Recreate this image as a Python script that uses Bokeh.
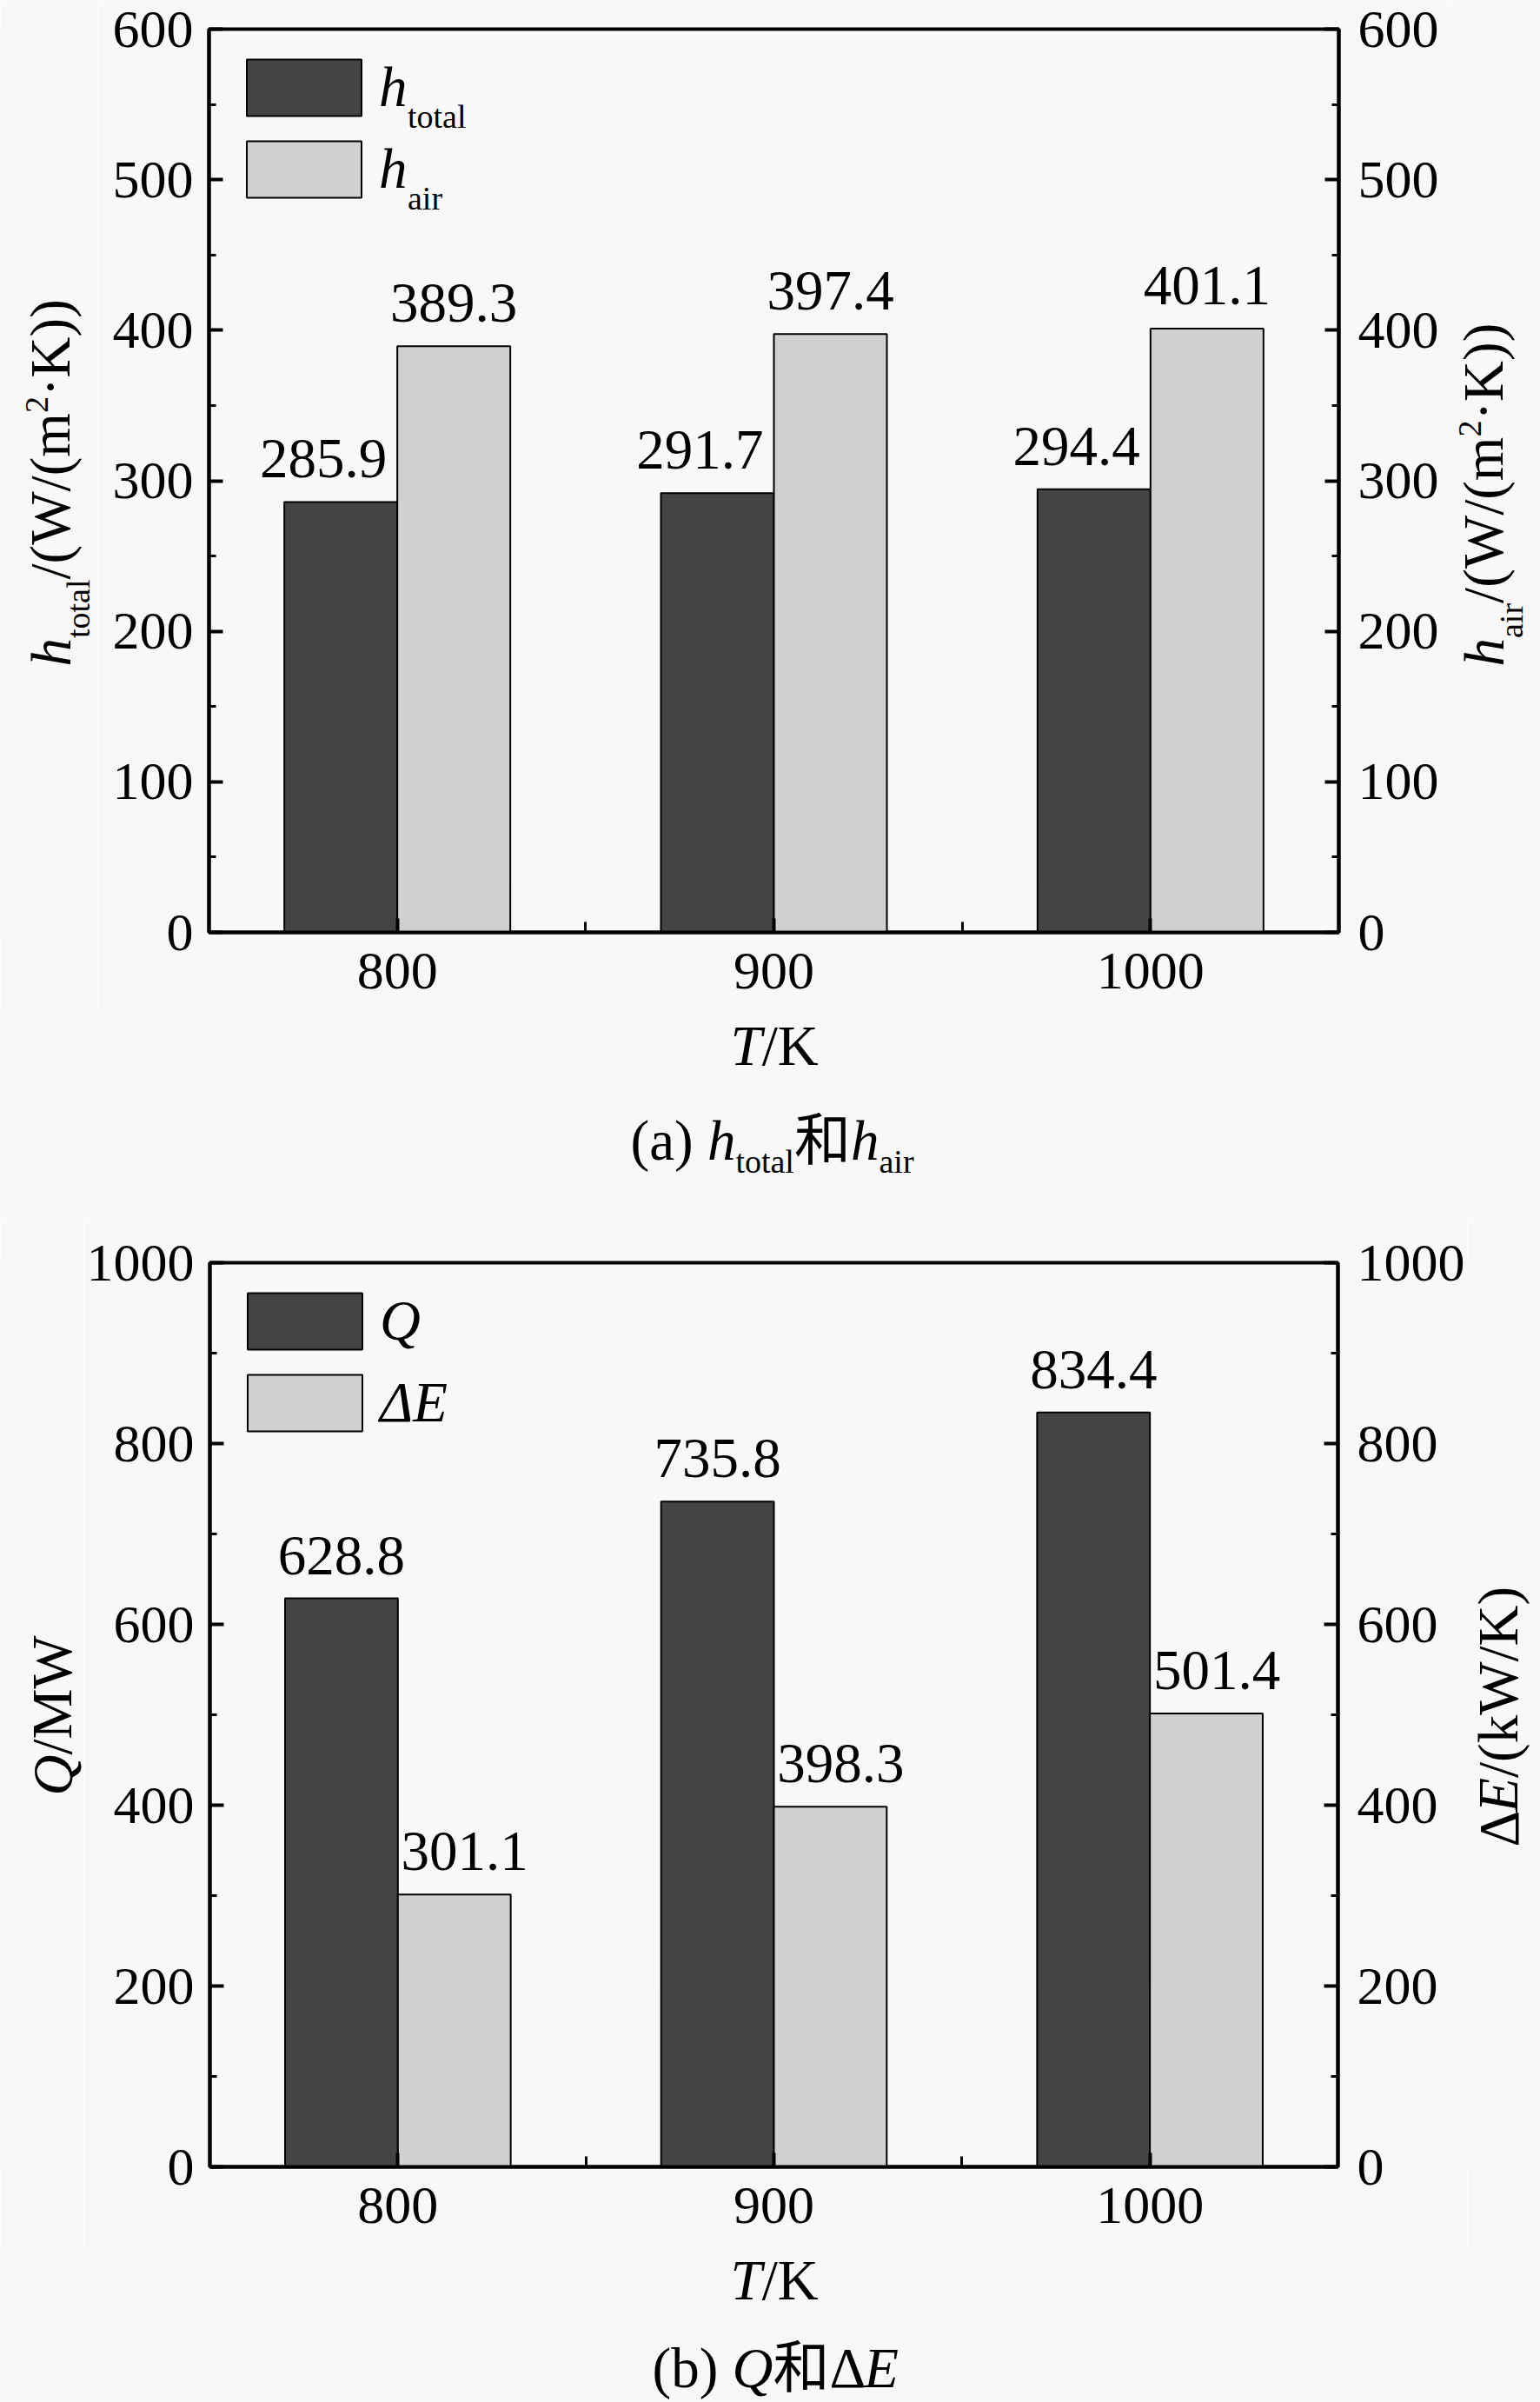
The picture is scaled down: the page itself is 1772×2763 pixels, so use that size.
import math
from bokeh.plotting import figure
from bokeh.models import (ColumnDataSource, Range1d, LinearAxis, FixedTicker,
                          LabelSet, Legend, LegendItem)
from bokeh.layouts import column, row
from bokeh.embed import file_html
from bokeh.resources import INLINE
from bokeh.transform import dodge

# ---------------- data ----------------
temperatures = ["800", "900", "1000"]
h_total = [285.9, 291.7, 294.4]
h_air = [389.3, 397.4, 401.1]
heat_Q = [628.8, 735.8, 834.4]
exergy_dE = [301.1, 398.3, 501.4]

# ---------------- style ----------------
SERIF = "Liberation Serif"
CJK = "Noto Sans CJK SC"
FS = 65          # titles / value labels
FT = 62          # tick labels
SUB = 38         # sub/superscripts
BG = "#f8f8f8"
DARK = "#444444"
LIGHT = "#d0d0d0"
PAGE_W = 1772
FL, FR = 240, 1540          # frame left/right (page px)

# approximate advance widths (em) used to chain mixed-style text pieces
W_REG = {'.': 0.25, '(': 0.333, ')': 0.333, '/': 0.278, 'W': 0.944, 'm': 0.778, 'K': 0.722,
         '·': 0.25, 'k': 0.5, 'M': 0.889, ' ': 0.25, 'a': 0.444, 'b': 0.5, 'i': 0.278,
         'r': 0.333, 't': 0.278, 'o': 0.5, 'l': 0.278, 'Δ': 0.612, '和': 1.0}
W_ITA = {'h': 0.5, 'T': 0.556, 'Q': 0.722, 'E': 0.611}


def adv(text, size, style):
    tbl = W_ITA if style == "italic" else W_REG
    return sum(tbl.get(c, 0.5) for c in text) * size


class TextLayer:
    """Collects text pieces and draws them with one LabelSet."""

    def __init__(self):
        self.d = dict(x=[], y=[], text=[], size=[], style=[], font=[], angle=[])

    def put(self, text, x, y, size=FS, style="normal", font=SERIF, angle=0.0):
        self.d["x"].append(x)
        self.d["y"].append(y)
        self.d["text"].append(text)
        self.d["size"].append(f"{size}px")
        self.d["style"].append(style)
        self.d["font"].append(font)
        self.d["angle"].append(angle)

    def compose(self, pieces, start, base, vertical=False):
        pos = start
        for text, size, style, shift, font in pieces:
            if vertical:
                self.put(text, base + shift, pos, size, style, font, math.pi / 2)
                pos -= adv(text, size, style)
            else:
                self.put(text, pos, base + shift, size, style, font)
                pos += adv(text, size, style)

    def attach(self, f):
        f.add_layout(LabelSet(source=ColumnDataSource(self.d), x="x", y="y", text="text",
                              text_font_size="size", text_font_style="style",
                              text_font="font", angle="angle", text_align="left",
                              text_baseline="alphabetic", text_color="black"))


def text_fig(x0, y0, w, h, layer, ftop=None, fbot=None):
    """Blank canvas in page-pixel coordinates, for titles.  When it sits in a row next
    to a chart, its frame is given the same vertical extent as the chart's frame."""
    if ftop is None:
        ftop, fbot = y0, y0 + h
    f = figure(width=w, height=h, x_range=Range1d(x0, x0 + w), y_range=Range1d(fbot, ftop),
               output_backend="svg", toolbar_location=None, x_axis_type=None, y_axis_type=None,
               min_border=0, min_border_left=0, min_border_right=0,
               min_border_top=ftop - y0, min_border_bottom=y0 + h - fbot,
               background_fill_color=BG, border_fill_color=BG, outline_line_color=None)
    f.grid.visible = False
    layer.attach(f)
    return f


def main_fig(x0, y0, w, h, ftop, fbot, ymax, major_step, minor_step, s1, s2, kind):
    p = figure(width=w, height=h, output_backend="svg", toolbar_location=None,
               x_range=Range1d(-0.5, 2.5), y_range=Range1d(0, ymax),
               x_axis_type=None, y_axis_type=None,
               min_border_left=FL - x0, min_border_right=x0 + w - FR,
               min_border_top=ftop - y0, min_border_bottom=y0 + h - fbot,
               background_fill_color=BG, border_fill_color=BG)
    p.grid.visible = False
    p.outline_line_color = "black"
    p.outline_line_width = 4

    def X(px):
        return -0.5 + (px - FL) * 3.0 / (FR - FL)

    def Y(py):
        return (fbot - py) * ymax / (fbot - ftop)

    src = ColumnDataSource(dict(
        x=list(range(len(temperatures))), s1=s1, s2=s2,
        t1=[f"{v:.1f}" for v in s1], t2=[f"{v:.1f}" for v in s2]))

    r1 = p.vbar(x=dodge("x", -0.15), top="s1", width=0.3, source=src,
                fill_color=DARK, line_color="black", line_width=2)
    r2 = p.vbar(x=dodge("x", 0.15), top="s2", width=0.3, source=src,
                fill_color=LIGHT, line_color="black", line_width=2)

    # axes
    xt = FixedTicker(ticks=list(range(len(temperatures))), minor_ticks=[0.5, 1.5])
    xax = LinearAxis(ticker=xt, major_label_overrides={i: t for i, t in enumerate(temperatures)})
    yt = FixedTicker(ticks=list(range(0, ymax + 1, major_step)),
                     minor_ticks=list(range(0, ymax + 1, minor_step)))
    yl = LinearAxis(ticker=yt)
    p.extra_y_ranges = {"right": Range1d(0, ymax)}
    yr = LinearAxis(ticker=yt, y_range_name="right")
    for ax in (xax, yl, yr):
        ax.axis_line_width = 4
        ax.axis_line_color = "black"
        ax.major_tick_in = 16
        ax.major_tick_out = 0
        ax.minor_tick_in = 8
        ax.minor_tick_out = 0
        ax.major_tick_line_width = 4
        ax.minor_tick_line_width = 3
        ax.major_label_text_font = SERIF
        ax.major_label_text_font_size = f"{FT}px"
        ax.major_label_text_color = "black"
    xax.minor_tick_in = 12
    xax.major_label_standoff = 24
    yl.major_label_standoff = 18
    yr.major_label_standoff = 22
    p.add_layout(xax, "below")
    p.add_layout(yl, "left")
    p.add_layout(yr, "right")

    # value labels
    common = dict(source=src, text_baseline="alphabetic", text_font=SERIF,
                  text_font_size=f"{FS}px", text_color="black", y_offset=28)
    if kind == "a":
        p.add_layout(LabelSet(x="x", y="s1", text="t1", x_offset=-12, text_align="right", **common))
        p.add_layout(LabelSet(x=dodge("x", 0.15), y="s2", text="t2", text_align="center", **common))
    else:
        p.add_layout(LabelSet(x=dodge("x", -0.15), y="s1", text="t1", text_align="center", **common))
        p.add_layout(LabelSet(x=dodge("x", 0.15), y="s2", text="t2", x_offset=12,
                              text_align="center", **common))

    # legend (swatch is drawn at 80% of the glyph box)
    names = ["h", "h"] if kind == "a" else ["Q", "ΔE"]
    margin = 27
    standoff = 4
    legend = Legend(items=[LegendItem(label=names[0], renderers=[r1]),
                           LegendItem(label=names[1], renderers=[r2])],
                    location="top_left", margin=margin, padding=0, spacing=13,
                    glyph_width=165, glyph_height=81, label_standoff=standoff,
                    label_text_font=SERIF, label_text_font_size=f"{FS}px",
                    label_text_font_style="italic", label_text_color="black",
                    label_text_baseline="alphabetic",
                    background_fill_alpha=0, border_line_alpha=0)
    p.add_layout(legend)

    if kind == "a":
        subs = TextLayer()
        sx = FL + margin + 165 + standoff + adv("h", FS, "italic")
        c1 = ftop + margin + 40.5          # centre of first legend item
        for i, sub in enumerate(["total", "air"]):
            subs.put(sub, X(sx), Y(c1 + i * 94 + 25 + 21), SUB)
        subs.attach(p)
    return p


# ---------------- panel (a) ----------------
A_H = 1166
A_FT, A_FB = 33, 1072
A_RX = 1665
ta_l, ta_r, ta_c = TextLayer(), TextLayer(), TextLayer()
ta_l.compose([("h", FS, "italic", 0, SERIF), ("total", SUB, "normal", 22, SERIF),
              ("/(W/(m", FS, "normal", 0, SERIF), ("2", SUB, "normal", -25, SERIF),
              ("·K))", FS, "normal", 0, SERIF)], 766, 80, vertical=True)
ta_r.compose([("h", FS, "italic", 0, SERIF), ("air", SUB, "normal", 22, SERIF),
              ("/(W/(m", FS, "normal", 0, SERIF), ("2", SUB, "normal", -25, SERIF),
              ("·K))", FS, "normal", 0, SERIF)], 766, 1729, vertical=True)
ta_c.compose([("T", FS, "italic", 0, SERIF), ("/K", FS, "normal", 0, SERIF)], 840, 1224)
ta_c.compose([("(a) ", FS, "normal", 0, SERIF), ("h", FS, "italic", 0, SERIF),
              ("total", SUB, "normal", 15, SERIF), ("和", FS, "normal", 0, CJK),
              ("h", FS, "italic", 0, SERIF), ("air", SUB, "normal", 15, SERIF)], 725, 1333)

La = text_fig(0, 0, 112, A_H, ta_l, A_FT, A_FB)
Pa = main_fig(112, 0, A_RX - 112, A_H, A_FT, A_FB, 600, 100, 50, h_total, h_air, "a")
Ra = text_fig(A_RX, 0, PAGE_W - A_RX, A_H, ta_r, A_FT, A_FB)
Ca = text_fig(0, A_H, PAGE_W, 1400 - A_H, ta_c)

# ---------------- panel (b) ----------------
B_Y, B_H = 1400, 1186
B_FT, B_FB = 1452, 2492
B_LW, B_RX = 96, 1688
tb_l, tb_r, tb_c = TextLayer(), TextLayer(), TextLayer()
tb_l.compose([("Q", FS, "italic", 0, SERIF), ("/MW", FS, "normal", 0, SERIF)], 2065, 82,
             vertical=True)
tb_r.compose([("Δ", FS, "normal", 0, SERIF), ("E", FS, "italic", 0, SERIF),
              ("/(kW/K)", FS, "normal", 0, SERIF)], 2124, 1746, vertical=True)
tb_c.compose([("T", FS, "italic", 0, SERIF), ("/K", FS, "normal", 0, SERIF)], 840, 2644)
tb_c.compose([("(b) ", FS, "normal", 0, SERIF), ("Q", FS, "italic", 0, SERIF),
              ("和", FS, "normal", 0, CJK), ("Δ", FS, "normal", 0, SERIF),
              ("E", FS, "italic", 0, SERIF)], 750, 2745)

Lb = text_fig(0, B_Y, B_LW, B_H, tb_l, B_FT, B_FB)
Pb = main_fig(B_LW, B_Y, B_RX - B_LW, B_H, B_FT, B_FB, 1000, 200, 100, heat_Q, exergy_dE, "b")
Rb = text_fig(B_RX, B_Y, PAGE_W - B_RX, B_H, tb_r, B_FT, B_FB)
Cb = text_fig(0, B_Y + B_H, PAGE_W, 2763 - B_Y - B_H, tb_c)

layout = column(row(La, Pa, Ra, spacing=0), Ca, row(Lb, Pb, Rb, spacing=0), Cb, spacing=0)
open("out.html", "w").write(file_html(layout, INLINE))
